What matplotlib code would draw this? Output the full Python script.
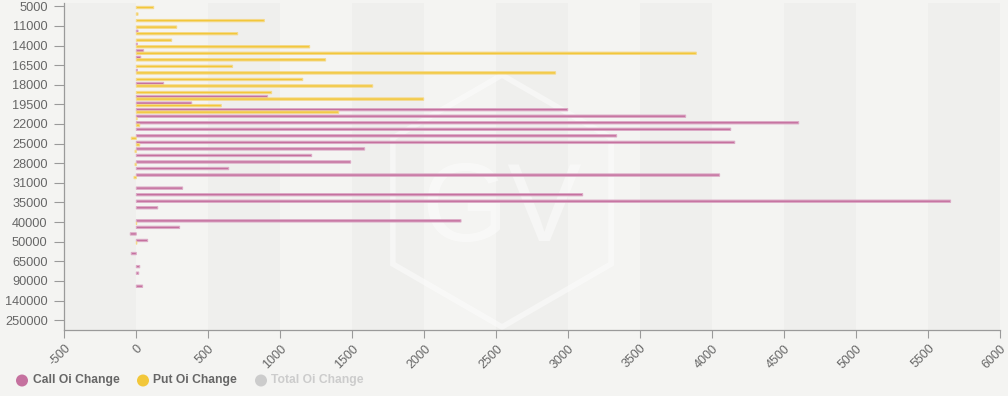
import matplotlib
matplotlib.use("Agg")
import matplotlib.pyplot as plt
from matplotlib.patches import Polygon, Ellipse
import numpy as np

plt.rcParams['font.family'] = ['Liberation Sans', 'DejaVu Sans']

# ---- data ----
strikes = [5000, 8000, 10000, 11000, 12000, 13000, 14000, 15000, 16000, 16500,
           17000, 17500, 18000, 18500, 19000, 19500, 20000, 21000, 22000, 23000,
           24000, 25000, 26000, 27000, 28000, 29000, 30000, 31000, 32000, 33000,
           35000, 36000, 38000, 40000, 42000, 45000, 50000, 55000, 60000, 65000,
           70000, 80000, 90000, 100000, 120000, 140000, 160000, 200000, 250000, 300000]

call_oi_change = [0, 0, 0, 0, 12, 0, 8, 51, 31, 0,
                  8, 0, 190, 0, 912, 385, 2996, 3815, 4600, 4128,
                  3336, 4156, 1586, 1218, 1489, 642, 4051, 0, 322, 3100,
                  5655, 149, 0, 2255, 301, -42, 79, 0, -35, 0,
                  24, 17, 0, 44, 0, 0, 0, 0, 0, 0]

put_oi_change = [121, 12, 889, 281, 704, 246, 1204, 3889, 1315, 669,
                 2912, 1156, 1642, 940, 1996, 590, 1406, 6, 24, 0,
                 -35, 24, -9, 0, -9, 0, -16, 0, 0, 0,
                 0, 0, 0, 3, 0, 0, 4, 0, 0, 0,
                 0, 0, 0, 0, 0, 0, 0, 0, 0, 0]

x_ticks = list(range(-500, 6001, 500))

# ---- style ----
BG = '#f4f4f2'
BAND = '#efefed'
PINK = '#c5719f'
PINK_EDGE = '#dcaac6'
YELLOW = '#f2c73a'
YELLOW_EDGE = '#f5d98a'
GREY_TXT = '#666666'
AXIS = '#9a9a9a'

W, H = 1008, 396
fig = plt.figure(figsize=(W / 100, H / 100), dpi=100, facecolor=BG)
left, right, top, bottom = 64.3, 1000.3, 3.0, 330.0
ax = fig.add_axes([left / W, 1 - bottom / H, (right - left) / W, (bottom - top) / H])
ax.set_facecolor(BG)

n = len(strikes)
y = np.arange(n)

# alternating split areas
for i, x0 in enumerate(x_ticks[:-1]):
    if i % 2 == 0:
        ax.axvspan(x0, x0 + 500, color=BAND, zorder=0, lw=0)

# watermark (hexagon + GV)
cx, cy, r = 502 / W, 1 - 201 / H, 126
verts = []
for ang in [90, 150, 210, 270, 330, 30]:
    a = np.deg2rad(ang)
    verts.append((cx + r * np.cos(a) / W, cy + r * np.sin(a) / H))
hexa = Polygon(verts, closed=True, fill=False, edgecolor='white', alpha=0.45,
               lw=4.0, transform=fig.transFigure, zorder=0.5, clip_on=False)
ax.add_patch(hexa)
ax.text(cx, 1 - 212 / H, 'GV', transform=fig.transFigure, fontsize=80,
        color='white', alpha=0.45, ha='center', va='center', zorder=0.5,
        fontweight='light')

h = 0.36
off = 0.19
call_arr = np.array(call_oi_change, dtype=float)
put_arr = np.array(put_oi_change, dtype=float)
mc = call_arr != 0
mp = put_arr != 0
bars_c = ax.barh(y[mc] - off, call_arr[mc], height=h, color=PINK, edgecolor=PINK_EDGE,
                 linewidth=0.7, zorder=3)
bars_p = ax.barh(y[mp] + off, put_arr[mp], height=h, color=YELLOW, edgecolor=YELLOW_EDGE,
                 linewidth=0.7, zorder=3)
for b in list(bars_c) + list(bars_p):
    b.set_snap(False)

ax.set_xlim(-500, 6000)
ax.set_ylim(n - 0.5, -0.5)

ax.set_xticks(x_ticks)
ax.set_xticklabels([str(v) for v in x_ticks], rotation=45, ha='right',
                   va='top', rotation_mode='anchor', fontsize=9, color=GREY_TXT)
ax.set_yticks(y[::3])
ax.set_yticklabels([str(s) for s in strikes[::3]], fontsize=9.2, color=GREY_TXT)

ax.tick_params(axis='x', length=6, width=0.8, color=AXIS, pad=3)
ax.tick_params(axis='y', length=7, width=0.8, color=AXIS, pad=5)
for s in ['top', 'right']:
    ax.spines[s].set_visible(False)
for s in ['left', 'bottom']:
    ax.spines[s].set_color(AXIS)
    ax.spines[s].set_linewidth(0.9)

# legend
legend_items = [('Call Oi Change', PINK, GREY_TXT, 22, 33),
                ('Put Oi Change', YELLOW, GREY_TXT, 143, 153),
                ('Total Oi Change', '#cccccc', '#cccccc', 261, 271)]
ly = 1 - 380.5 / H
for label, mcol, tc, mx, tx in legend_items:
    fig.patches.append(Ellipse((mx / W, ly), width=12 / W, height=12 / H,
                               transform=fig.transFigure,
                               facecolor=mcol, edgecolor='none'))
    fig.text(tx / W, ly, label, fontsize=8.7, fontweight='bold', color=tc,
             ha='left', va='center')

fig.savefig('out.png', dpi=100, facecolor=BG)
